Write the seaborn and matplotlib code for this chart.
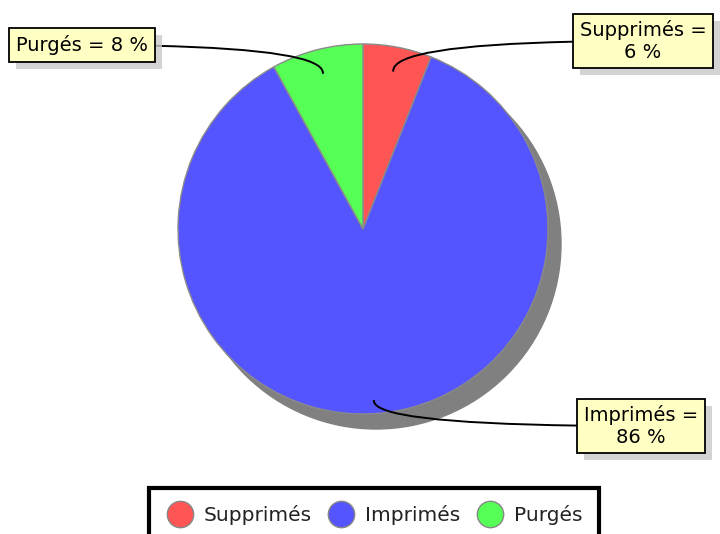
import matplotlib
matplotlib.use("Agg")
import matplotlib.pyplot as plt
import matplotlib.patheffects as pe
from matplotlib.lines import Line2D
from matplotlib.patches import Circle
import numpy as np
import seaborn as sns

categories = ['Supprimés', 'Imprimés', 'Purgés']
values = [6, 86, 8]
colors = ['#FF5555', '#5555FF', '#55FF55']
label_texts = ['Supprimés =\n6 %', 'Imprimés =\n86 %', 'Purgés = 8 %']

sns.set_theme(style='white')
plt.rcParams['font.family'] = ['DejaVu Sans']

fig = plt.figure(figsize=(7.2, 5.34), dpi=100)
ax = fig.add_axes([0, 0, 1, 1])

cx, cy, R = 363, 305, 185

# shadow under the pie
ax.add_patch(Circle((cx + 13, cy - 15), R, color='#808080', zorder=0))

wedges, _ = ax.pie(values, colors=colors, startangle=90, counterclock=False,
                   center=(cx, cy), radius=R, frame=True,
                   wedgeprops=dict(edgecolor='#8a8a8a', linewidth=1))
for w in wedges:
    w.set_zorder(1)

ax.set_xlim(0, 720)
ax.set_ylim(0, 534)
ax.set_aspect('equal')
ax.axis('off')

# label boxes: text position in pixels (center), radius factor of anchor point
text_pos = [(643, 534 - 41), (641, 534 - 426), (82, 534 - 45)]
r_fac = [0.87, 0.93, 0.87]

for w, txt, (tx, ty), rf in zip(wedges, label_texts, text_pos, r_fac):
    ang = np.deg2rad((w.theta1 + w.theta2) / 2)
    px = cx + rf * R * np.cos(ang)
    py = cy + rf * R * np.sin(ang)
    ann = ax.annotate(txt, xy=(px, py), xytext=(tx, ty), ha='center', va='center',
                      multialignment='center', fontsize=14, color='black',
                      linespacing=1.15,
                      bbox=dict(boxstyle='square,pad=0.35', fc='#FFFFC4', ec='black', lw=1.3),
                      arrowprops=dict(arrowstyle='-', color='black', lw=1.4,
                                      connectionstyle='angle3,angleA=0,angleB=90',
                                      shrinkA=0, shrinkB=0),
                      zorder=5)
    ann.get_bbox_patch().set_path_effects([
        pe.SimplePatchShadow(offset=(5, -5), shadow_rgbFace='#c8c8c8', alpha=0.8),
        pe.Normal()])

handles = [Line2D([], [], marker='o', linestyle='', markersize=19,
                  markerfacecolor=c, markeredgecolor='#888888', markeredgewidth=1)
           for c in colors]
leg = fig.legend(handles, categories, loc='upper center', ncol=3,
                 bbox_to_anchor=(0.52, 1 - 488 / 534), fontsize=14.5,
                 frameon=True, fancybox=False, framealpha=1, borderaxespad=0,
                 handletextpad=0.55, columnspacing=0.8, borderpad=0.85,
                 handlelength=1.3)
leg.get_frame().set_edgecolor('black')
leg.get_frame().set_linewidth(3)
for t in leg.get_texts():
    t.set_color('#222222')

fig.savefig('out.png', dpi=100)
